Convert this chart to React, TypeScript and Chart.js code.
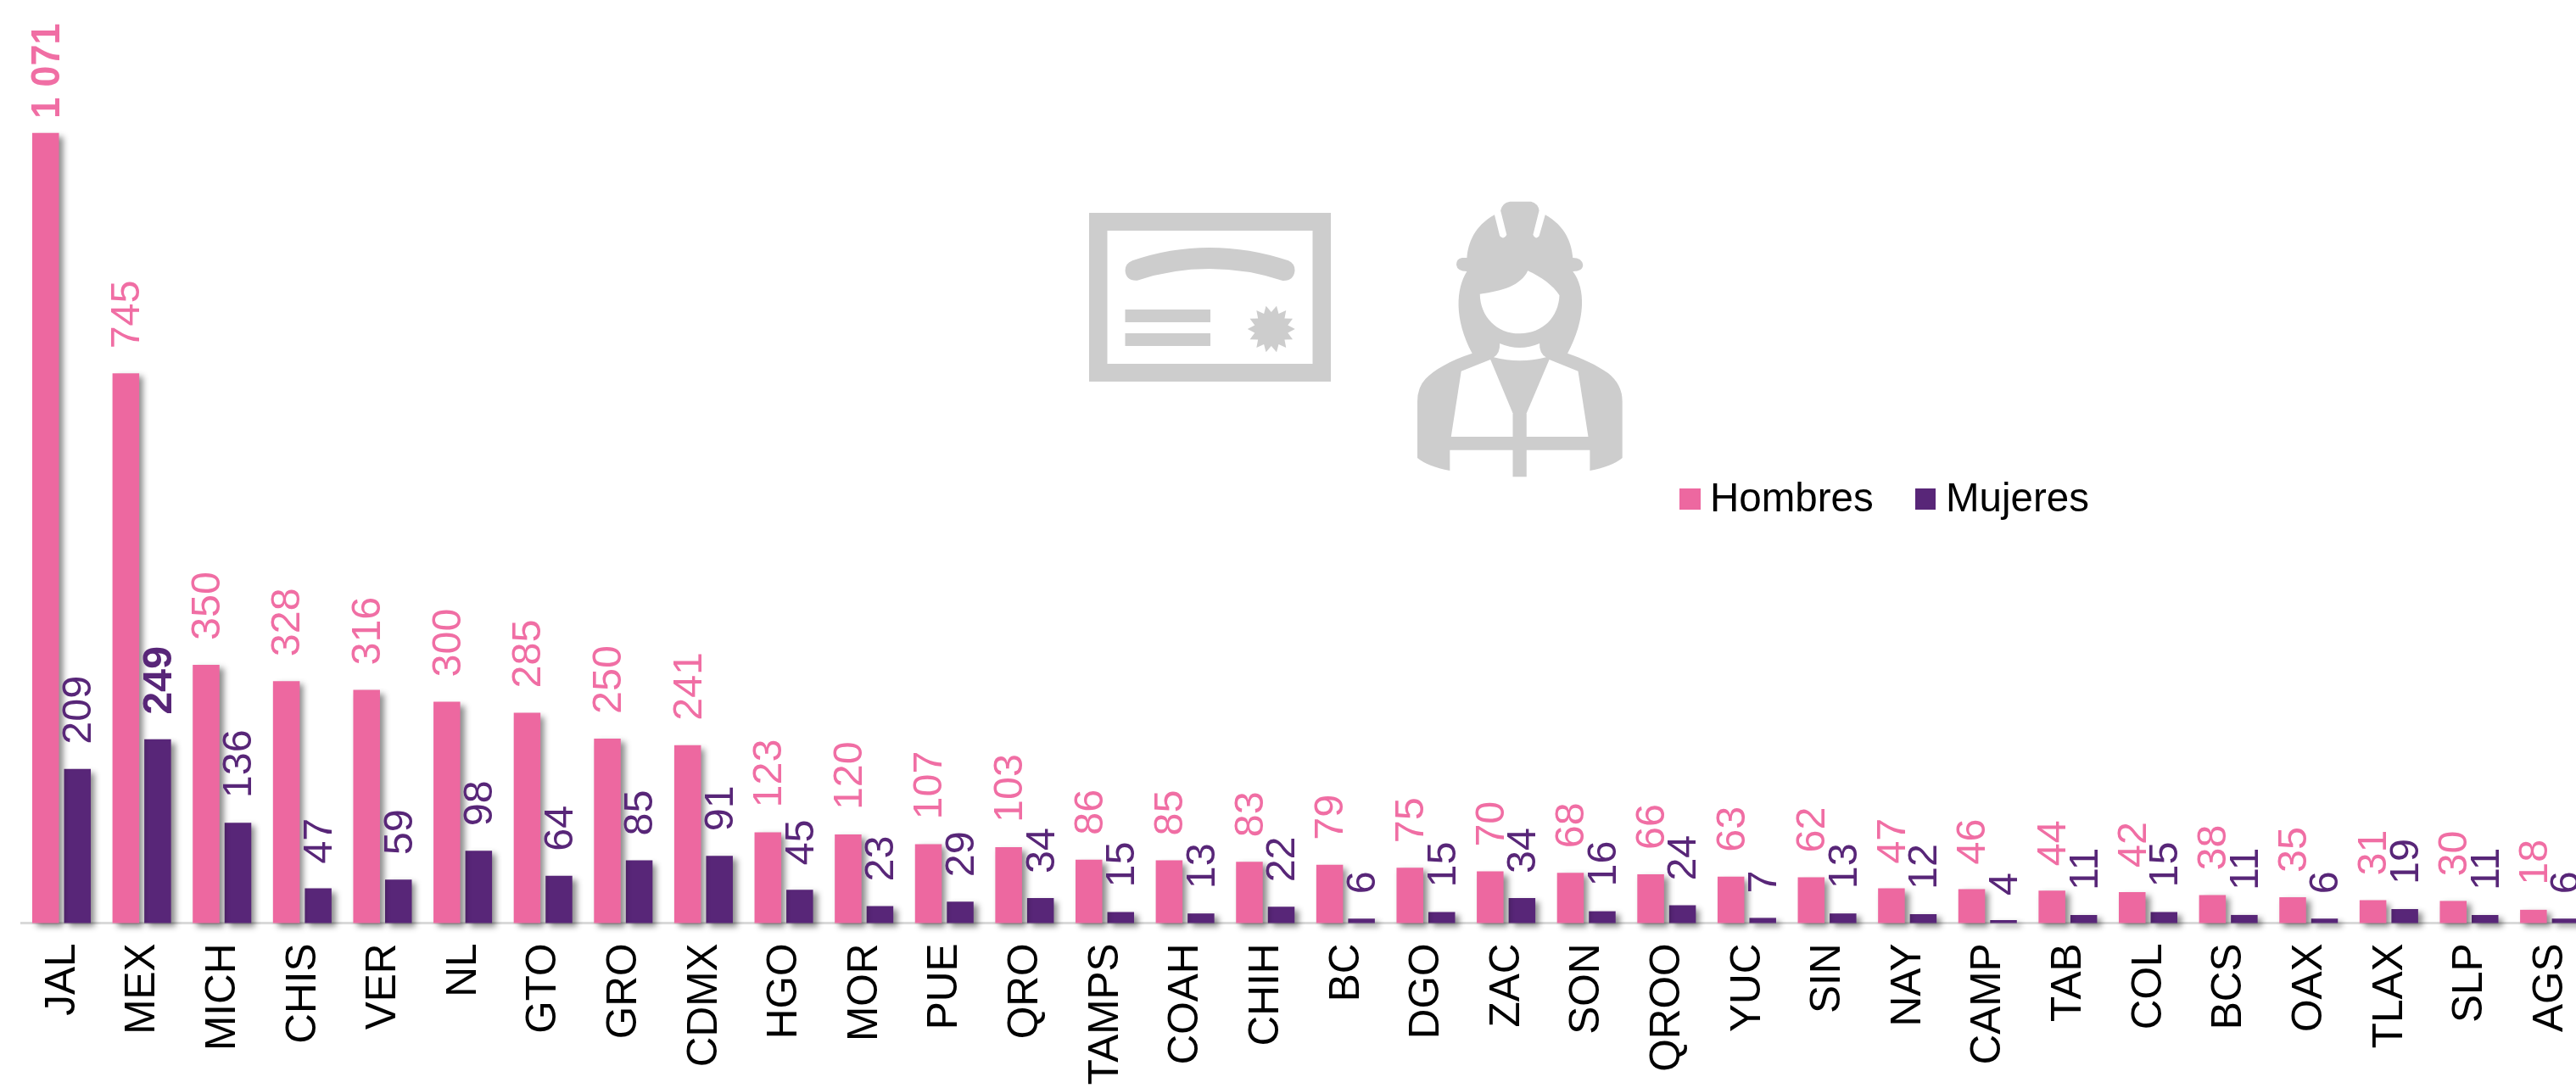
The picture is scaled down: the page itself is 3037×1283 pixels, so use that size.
import React, { useEffect, useRef } from "react";
import { Chart, registerables } from "chart.js";

Chart.register(...registerables);

const estados = ["JAL","MEX","MICH","CHIS","VER","NL","GTO","GRO","CDMX","HGO","MOR","PUE","QRO","TAMPS","COAH","CHIH","BC","DGO","ZAC","SON","QROO","YUC","SIN","NAY","CAMP","TAB","COL","BCS","OAX","TLAX","SLP","AGS"];
const hombres = [1071,745,350,328,316,300,285,250,241,123,120,107,103,86,85,83,79,75,70,68,66,63,62,47,46,44,42,38,35,31,30,18];
const mujeres = [209,249,136,47,59,98,64,85,91,45,23,29,34,15,13,22,6,15,34,16,24,7,13,12,4,11,15,11,6,19,11,6];
const boldValues = [1071, 249];

const PINK = "#ED68A0";
const PURPLE = "#582678";
const GREY = "#CDCDCD";
const FONT = '"Liberation Sans", Arial, sans-serif';
const SIZE = 47.5;
const LABEL_SIZE = 48.5;
const TICK_SIZE = 49.5;

const fmt = (v: number) => String(v).replace(/\B(?=(\d{3})+$)/g, " ");

const shadowPlugin = {
  id: "barShadow",
  beforeDatasetDraw(chart: any) {
    const c = chart.ctx;
    c.save();
    c.shadowColor = "rgba(0,0,0,0.45)";
    c.shadowBlur = 7;
    c.shadowOffsetX = 5;
    c.shadowOffsetY = 4;
  },
  afterDatasetDraw(chart: any) {
    chart.ctx.restore();
  },
};

const labelPlugin = {
  id: "valueLabels",
  afterDatasetsDraw(chart: any) {
    const c = chart.ctx;
    chart.data.datasets.forEach((ds: any, di: number) => {
      chart.getDatasetMeta(di).data.forEach((bar: any, i: number) => {
        const v = ds.data[i];
        c.save();
        c.translate(bar.x + 2.5, bar.y - (v > 1000 ? 17 : 29));
        c.rotate(-Math.PI / 2);
        c.font = `${boldValues.includes(v) ? "bold " : ""}${LABEL_SIZE}px ${FONT}`;
        c.fillStyle = ds.labelColor;
        c.textAlign = "left";
        c.textBaseline = "middle";
        if (v > 1000) c.fillText(fmt(v), 0, 0, 112);
        else c.fillText(fmt(v), 0, 0);
        c.restore();
      });
    });
  },
};

const legendPlugin = {
  id: "floatingLegend",
  afterDraw(chart: any) {
    const c = chart.ctx;
    const slots = [
      { box: 1980, w: 25, text: 2016 },
      { box: 2258, w: 24, text: 2294 },
    ];
    c.save();
    c.font = `${SIZE}px ${FONT}`;
    c.textBaseline = "alphabetic";
    c.textAlign = "left";
    chart.data.datasets.forEach((ds: any, i: number) => {
      c.fillStyle = ds.backgroundColor;
      c.fillRect(slots[i].box, 576, slots[i].w, 25);
      c.fillStyle = "#000";
      c.fillText(ds.label, slots[i].text, 603);
    });
    c.restore();
  },
};

const iconPlugin = {
  id: "icons",
  beforeDatasetsDraw(chart: any) {
    const c = chart.ctx;
    c.save();
    c.fillStyle = GREY;
    // certificate
    c.fillRect(1284, 251, 285, 199);
    c.fillStyle = "#fff";
    c.fillRect(1305.5, 272, 242, 157);
    c.fillStyle = GREY;
    c.fillRect(1326.5, 365, 100.5, 15);
    c.fillRect(1326.5, 393, 100.5, 15);
    c.save();
    c.translate(1250, 220);
    c.scale(1 / 2.09, 1 / 3);
    c.fill(new Path2D("M178,262 Q270,216 368,216 Q466,216 562,262 Q578,272 578,297 Q575,335 548,333 Q460,291 368,291 Q275,291 190,332 Q162,335 160,297 Q160,272 178,262 Z"));
    c.restore();
    const cx = 1498.8, cy = 388, n = 14;
    c.beginPath();
    for (let k = 0; k < n * 2; k++) {
      const r = k % 2 === 0 ? 28 : 20;
      const a = (Math.PI * k) / n + Math.PI / 2 + Math.PI / n;
      const x = cx + r * Math.cos(a);
      const y = cy + r * Math.sin(a);
      if (k === 0) c.moveTo(x, y);
      else c.lineTo(x, y);
    }
    c.closePath();
    c.fill();
    // worker
    c.save();
    c.translate(1250, 220);
    c.scale(1 / 2.09, 1 / 3);
    c.fill(new Path2D("M1070,100 C1020,140 1005,200 1002,252 L990,252 Q976,255 976,277 Q978,300 1002,300 C975,360 970,470 1015,590 C960,615 920,650 900,680 Q880,710 880,760 L880,960 Q905,990 960,1005 L960,932 L1115,932 L1115,1027 L1149,1027 L1149,932 L1305,932 L1305,1005 Q1360,990 1385,960 L1385,760 Q1385,700 1350,660 C1320,630 1290,610 1250,590 C1295,470 1295,360 1263,300 Q1288,300 1288,277 Q1285,252 1263,252 C1260,200 1245,140 1195,100 L1180,175 Q1172,190 1165,170 L1180,85 Q1178,60 1160,53 L1108,53 Q1088,58 1085,85 L1100,170 Q1092,190 1083,175 Z"));
    c.fillStyle = "#fff";
    c.fill(new Path2D("M1034,380 C1090,370 1135,350 1152,298 C1185,320 1215,350 1230,385 C1228,460 1190,520 1132,520 C1075,520 1035,460 1034,380 Z"));
    c.fill(new Path2D("M1083,555 Q1132,585 1181,555 Q1180,590 1197,604 Q1132,628 1068,604 Q1084,590 1083,555 Z"));
    c.fill(new Path2D("M1060,612 L988,653 L963,885 L1115,885 L1115,802 Z"));
    c.fill(new Path2D("M1205,612 L1276,653 L1301,885 L1149,885 L1149,802 Z"));
    c.restore();
    c.restore();
  },
};

export default function App() {
  const ref = useRef<HTMLCanvasElement>(null);
  useEffect(() => {
    const chart = new Chart(ref.current as HTMLCanvasElement, {
      type: "bar",
      data: {
        labels: estados,
        datasets: [
          { label: "Hombres", data: hombres, backgroundColor: PINK, labelColor: "#F06EA4", clip: false } as any,
          { label: "Mujeres", data: mujeres, backgroundColor: PURPLE, labelColor: PURPLE, clip: false } as any,
        ],
      },
      options: {
        responsive: false,
        animation: false,
        devicePixelRatio: 1,
        categoryPercentage: 0.793,
        barPercentage: 0.84,
        layout: { padding: { left: 25.2, right: 0, top: 131.5, bottom: 0 } },
        plugins: { legend: { display: false }, title: { display: false }, tooltip: { enabled: false } },
        scales: {
          x: {
            grid: { display: false },
            border: { display: true, color: "#D9D9D9", width: 3 },
            afterFit(scale: any) { scale.height = 194.5; },
            ticks: {
              color: "#000",
              font: { family: FONT, size: TICK_SIZE },
              minRotation: 90,
              maxRotation: 90,
              autoSkip: false,
              padding: 16,
              labelOffset: 1.5,
            },
          },
          y: { display: false, min: 0, max: 1100 },
        },
      } as any,
      plugins: [iconPlugin, shadowPlugin, labelPlugin, legendPlugin],
    });
    return () => chart.destroy();
  }, []);
  return (
    <div style={{ position: "fixed", inset: 0, overflow: "hidden", background: "#fff" }}>
      <canvas ref={ref} width={3081} height={1283} style={{ position: "absolute", left: 0, top: 0 }} />
    </div>
  );
}
